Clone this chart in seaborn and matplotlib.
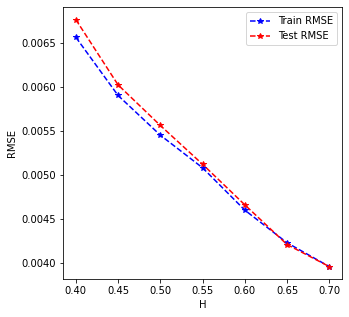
import matplotlib
matplotlib.use("Agg")
import matplotlib.pyplot as plt
import seaborn as sns

# values
h_values = [0.40, 0.45, 0.50, 0.55, 0.60, 0.65, 0.70]
train_rmse = [0.00656, 0.00590, 0.00545, 0.00508, 0.00460, 0.00423, 0.00396]
test_rmse = [0.00676, 0.00602, 0.00556, 0.00512, 0.00466, 0.00421, 0.00396]

fig = plt.figure(figsize=(349 / 72, 317 / 72), dpi=72)
ax = fig.add_axes([0.181, 0.12, 0.799, 0.857])

sns.lineplot(x=h_values, y=train_rmse, ax=ax, color="b", marker="*", linestyle="--",
             markeredgecolor="b", markeredgewidth=1, markersize=6, label="Train RMSE")
sns.lineplot(x=h_values, y=test_rmse, ax=ax, color="r", marker="*", linestyle="--",
             markeredgecolor="r", markeredgewidth=1, markersize=6, label="Test RMSE")

ax.set_xlabel("H")
ax.set_ylabel("RMSE")
ax.legend(loc="upper right")

fig.savefig("out.png", dpi=72)
